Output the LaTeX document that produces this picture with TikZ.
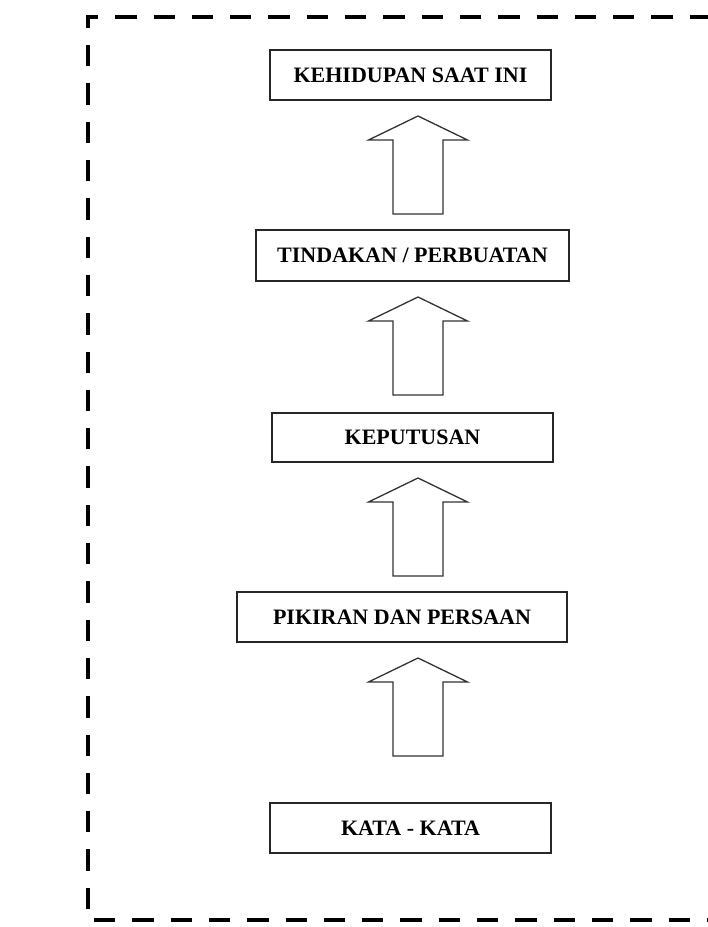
\documentclass[tikz,border=0pt]{standalone}
\usepackage{fontspec}
\setmainfont{Liberation Serif}
\usetikzlibrary{calc}
\begin{document}
\begin{tikzpicture}[x=1pt,y=-1pt,
  box/.style={draw=black!85, line width=1.3pt, fill=white, inner sep=0pt,
    font=\fontsize{22}{26}\selectfont\bfseries},
  border/.style={line width=4.2pt, dash pattern=on 21.3pt off 17pt, line cap=butt, line join=miter},
  arrowline/.style={draw=black!80, line width=1.3pt, fill=white, line join=miter},
  uparrow/.pic={\path[arrowline] (-25,0) -- (-25,-74) -- (-49.5,-74) -- (0,-98)
     -- (49.5,-74) -- (25,-74) -- (25,0) -- cycle;}
]
\useasboundingbox (0,0) rectangle (708,927);
\clip (0,0) rectangle (708,927);
\fill[white] (0,0) rectangle (708,927);

% dashed frame (right side lies beyond the page)
\draw[border] (88,909) -- (88,17) -- (740,17);
\draw[border] (94,920) -- (740,920);

% boxes
\node[box, minimum width=281pt, minimum height=50pt] (b1) at (410.5,75) {KEHIDUPAN SAAT INI};
\node[box, minimum width=313pt, minimum height=51pt] (b2) at (412.5,255.5) {TINDAKAN / PERBUATAN};
\node[box, minimum width=281pt, minimum height=49pt] (b3) at (412.5,437.5) {KEPUTUSAN};
\node[box, minimum width=330pt, minimum height=50pt] (b4) at (402,617) {PIKIRAN DAN PERSAAN};
\node[box, minimum width=281pt, minimum height=50pt] (b5) at (410.5,828) {KATA - KATA};

% block arrows
\pic (a1) at (418,214) {uparrow};
\pic (a2) at (418,395) {uparrow};
\pic (a3) at (418,576) {uparrow};
\pic (a4) at (418,756) {uparrow};
\end{tikzpicture}
\end{document}
